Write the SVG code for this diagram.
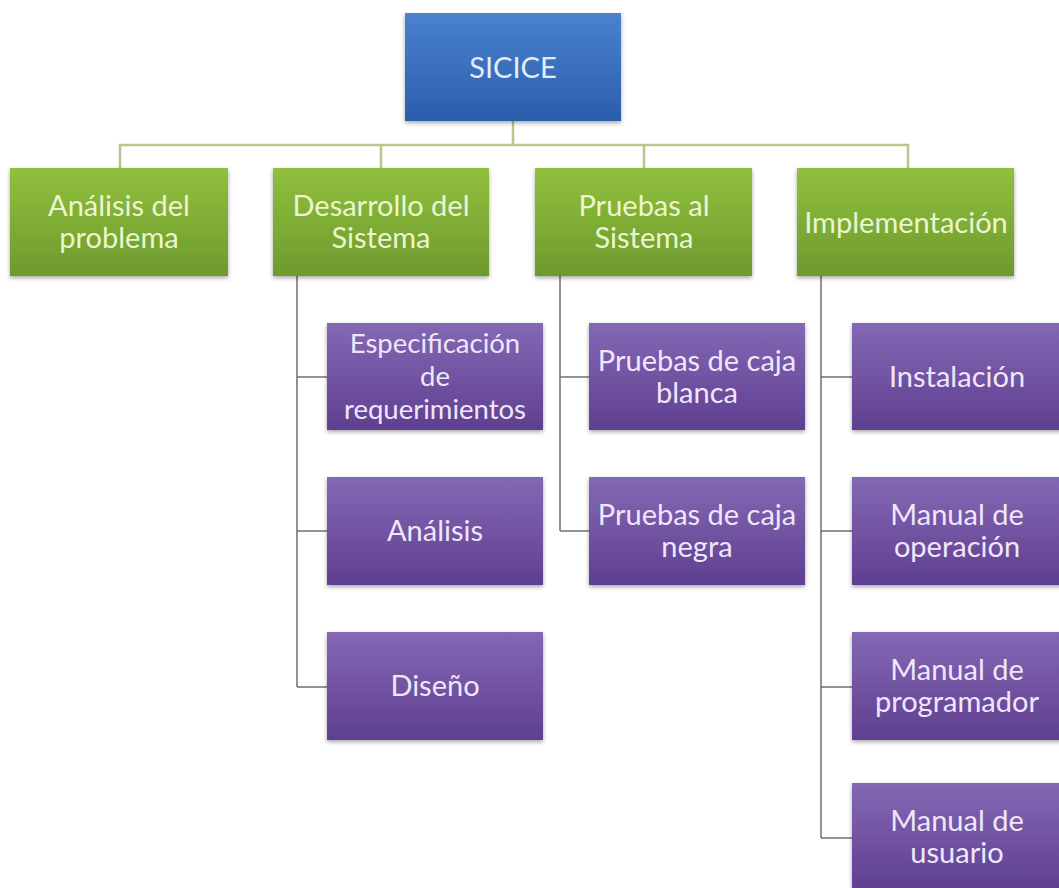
<svg xmlns="http://www.w3.org/2000/svg" width="1059" height="888" viewBox="0 0 1059 888">
<defs>
<linearGradient id="gb" x1="0" y1="0" x2="0" y2="1"><stop offset="0" stop-color="#4a82cf"/><stop offset="1" stop-color="#2a5eab"/></linearGradient>
<linearGradient id="gg" x1="0" y1="0" x2="0" y2="1"><stop offset="0" stop-color="#90c03e"/><stop offset="1" stop-color="#6e9a2c"/></linearGradient>
<linearGradient id="gp" x1="0" y1="0" x2="0" y2="1"><stop offset="0" stop-color="#8468b4"/><stop offset="1" stop-color="#5f3f91"/></linearGradient>
<filter id="sh" x="-10%" y="-10%" width="120%" height="130%"><feDropShadow dx="0" dy="2" stdDeviation="2" flood-color="#000" flood-opacity="0.35"/></filter>
</defs>
<style>
text{font-family:"Lato","Liberation Sans",sans-serif;font-size:29px;text-anchor:middle}
.b rect{fill:url(#gb);filter:url(#sh)}
.g rect{fill:url(#gg);filter:url(#sh)}
.p rect{fill:url(#gp);filter:url(#sh)}
.b text{fill:#e3ecf8}
.g text{fill:#eaf6cf}
.p text{fill:#efe6fa}
.t3 text{font-size:27.5px}
.top{stroke:#b9c58a;stroke-width:2.5;fill:none}
.sub{stroke:#6f6f7c;stroke-width:1.5;fill:none}
</style>
<rect width="1059" height="888" fill="#fff"/>
<g id="connectors">
<path class="top" d="M513 121V145M120 168V145H908V168M381 168V145M644 168V145"/>
<path class="sub" d="M297 276V687M297 377H327M297 531H327M297 687H327"/>
<path class="sub" d="M560 276V531M560 377H589M560 531H589"/>
<path class="sub" d="M821 276V838M821 377H852M821 531H852M821 687H852M821 838H852"/>
</g>
<g id="n-sicice" class="b"><rect x="405" y="13" width="216" height="108"/><text x="513" y="78">SICICE</text></g>
<g id="n-analisis-problema" class="g"><rect x="10" y="168" width="218" height="108"/><text x="119" y="216">Análisis del</text><text x="119" y="248">problema</text></g>
<g id="n-desarrollo" class="g"><rect x="273" y="168" width="216" height="108"/><text x="381" y="216">Desarrollo del</text><text x="381" y="248">Sistema</text></g>
<g id="n-pruebas" class="g"><rect x="535" y="168" width="217" height="108"/><text x="644" y="216">Pruebas al</text><text x="644" y="248">Sistema</text></g>
<g id="n-implementacion" class="g"><rect x="797" y="168" width="217" height="108"/><text x="906" y="233">Implementación</text></g>
<g id="n-especificacion" class="p t3"><rect x="327" y="323" width="216" height="107"/><text x="435" y="353">Especificación</text><text x="435" y="386">de</text><text x="435" y="419">requerimientos</text></g>
<g id="n-analisis" class="p"><rect x="327" y="477" width="216" height="108"/><text x="435" y="541">Análisis</text></g>
<g id="n-diseno" class="p"><rect x="327" y="632" width="216" height="108"/><text x="435" y="696">Diseño</text></g>
<g id="n-caja-blanca" class="p"><rect x="589" y="323" width="216" height="107"/><text x="697" y="371">Pruebas de caja</text><text x="697" y="403">blanca</text></g>
<g id="n-caja-negra" class="p"><rect x="589" y="477" width="216" height="108"/><text x="697" y="525">Pruebas de caja</text><text x="697" y="557">negra</text></g>
<g id="n-instalacion" class="p"><rect x="852" y="323" width="216" height="107"/><text x="957" y="387">Instalación</text></g>
<g id="n-manual-operacion" class="p"><rect x="852" y="477" width="216" height="108"/><text x="957" y="525">Manual de</text><text x="957" y="557">operación</text></g>
<g id="n-manual-programador" class="p"><rect x="852" y="632" width="216" height="108"/><text x="957" y="680">Manual de</text><text x="957" y="712">programador</text></g>
<g id="n-manual-usuario" class="p"><rect x="852" y="783" width="216" height="108"/><text x="957" y="831">Manual de</text><text x="957" y="863">usuario</text></g>
</svg>
